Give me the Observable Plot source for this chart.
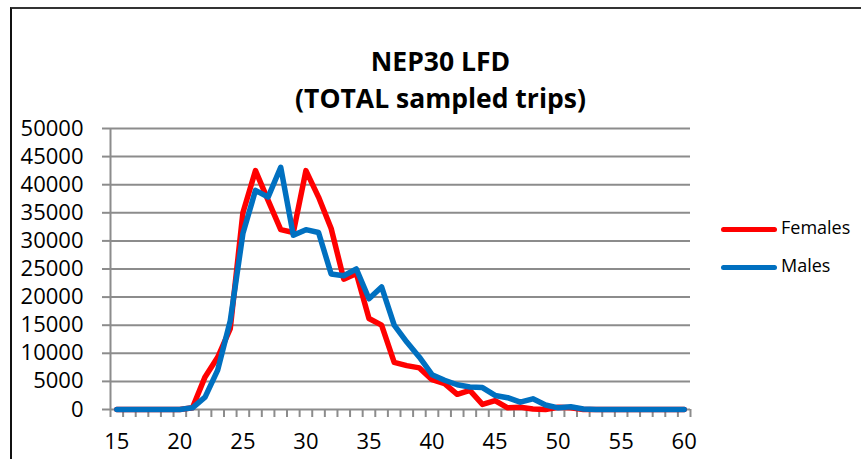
<!DOCTYPE html>
<html>
<head>
<meta charset="utf-8">
<script src="https://cdn.jsdelivr.net/npm/d3@7"></script>
<script src="https://cdn.jsdelivr.net/npm/@observablehq/plot@0.6"></script>
<style>
  html, body { margin: 0; padding: 0; background: #fff; }
  #wrap { position: relative; width: 861px; height: 459px; overflow: hidden; font-family: "Open Sans", sans-serif; }
  #frame { position: absolute; left: 10px; top: 7px; width: 900px; height: 500px; border-left: 2px solid #111; border-top: 2px solid #333; }
  .title { position: absolute; left: 0; width: 881px; text-align: center; font-weight: bold; font-size: 26.5px; color: #000; line-height: 1; }
  .leg { position: absolute; font-size: 18px; color: #000; line-height: 1; }
  svg { position: absolute; left: 0; top: 0; }
</style>
</head>
<body>
<div id="wrap">
  <div id="frame"></div>
  <div class="title" style="top:48px">NEP30 LFD</div>
  <div class="title" style="top:85px">(TOTAL sampled trips)</div>
  <div id="legend"></div>
</div>
<script>
const lengths = [15,16,17,18,19,20,21,22,23,24,25,26,27,28,29,30,31,32,33,34,35,36,37,38,39,40,41,42,43,44,45,46,47,48,49,50,51,52,53,54,55,56,57,58,59,60];
const females = [0,0,0,0,0,0,300,5800,9300,14400,35000,42500,37200,32000,31500,42500,37800,32200,23200,24200,16200,15000,8400,7800,7400,5300,4600,2700,3400,900,1600,300,400,100,0,400,300,0,0,0,0,0,0,0,0,0];
const males   = [0,0,0,0,0,0,300,2200,7000,15800,31300,39000,37800,43100,31000,32000,31500,24100,23800,25000,19700,21800,15000,12000,9300,6200,5200,4400,4000,3900,2500,2100,1300,1900,800,300,500,100,0,0,0,0,0,0,0,0];
const seriesNames = ["Females", "Males"];
const seriesColors = ["#FF0000", "#0070C0"];
const xTicks = [15,20,25,30,35,40,45,50,55,60];
const yTicks = [0,5000,10000,15000,20000,25000,30000,35000,40000,45000,50000];

const rows = [];
lengths.forEach((L, i) => {
  rows.push({len: L, value: females[i], series: seriesNames[0]});
  rows.push({len: L, value: males[i], series: seriesNames[1]});
});
// category boundaries (tick marks between categories)
const bounds = [lengths[0] - 0.5, ...lengths.map(d => d + 0.5)];

const plot = Plot.plot({
  width: 861,
  height: 459,
  marginLeft: 110,
  marginRight: 171,
  marginTop: 128,
  marginBottom: 50,
  style: {fontFamily: "Open Sans, sans-serif", fontSize: "22px", color: "#000", background: "transparent"},
  x: {type: "linear", domain: [lengths[0] - 0.5, lengths[lengths.length - 1] + 0.5], label: null},
  y: {type: "linear", domain: [0, 50000], label: null},
  color: {domain: seriesNames, range: seriesColors},
  marks: [
    Plot.ruleY(yTicks, {stroke: "#8c8c8c", strokeWidth: 2}),
    Plot.ruleX([lengths[0] - 0.5], {stroke: "#8c8c8c", strokeWidth: 2}),
    Plot.axisY(yTicks, {tickSize: 8, text: null, stroke: "#8c8c8c", strokeWidth: 2, strokeOpacity: 1, label: null}),
    Plot.axisX(bounds, {tickSize: 8, text: null, stroke: "#8c8c8c", strokeWidth: 2, strokeOpacity: 1, label: null}),
    Plot.axisY(yTicks, {tickSize: 0, tickPadding: 27, fontSize: 22, tickFormat: d => String(d), label: null}),
    Plot.axisX(xTicks, {tickSize: 0, tickPadding: 24, fontSize: 22, tickFormat: d => String(d), label: null}),
    Plot.line(rows, {x: "len", y: "value", z: "series", stroke: "series", strokeWidth: 5.5, strokeLinejoin: "round", strokeLinecap: "round"})
  ]
});
document.getElementById("wrap").appendChild(plot);

// legend
const leg = document.getElementById("legend");
const legY = [229, 267];
seriesNames.forEach((name, i) => {
  const sw = document.createElement("div");
  sw.style.cssText = `position:absolute;left:721px;top:${legY[i]-2.5}px;width:56px;height:5px;border-radius:3px;background:${seriesColors[i]}`;
  leg.appendChild(sw);
  const t = document.createElement("div");
  t.className = "leg";
  t.textContent = name;
  t.style.left = "781px";
  t.style.top = (legY[i] - 11) + "px";
  leg.appendChild(t);
});
</script>
</body>
</html>
